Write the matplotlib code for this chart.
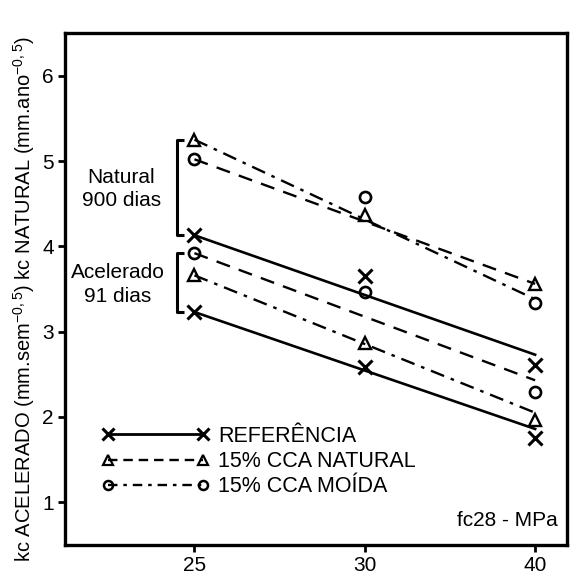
import numpy as np
import matplotlib.pyplot as plt

plt.rcParams['font.family'] = ['Liberation Sans', 'DejaVu Sans']
plt.rcParams['mathtext.fontset'] = 'custom'
plt.rcParams['mathtext.rm'] = 'Liberation Sans'

# fc28 (MPa) categories, drawn equally spaced
fc28 = ['25', '30', '40']

# kc natural (900 dias)
ref_nat = [4.13, 3.65, 2.61]
cca_nat_nat = [5.25, 4.37, 3.56]
cca_moida_nat = [5.02, 4.58, 3.34]
# kc acelerado (91 dias)
ref_ace = [3.23, 2.59, 1.75]
cca_nat_ace = [3.66, 2.87, 1.96]
cca_moida_ace = [3.92, 3.46, 2.29]

# trend lines as drawn in the figure (value at 25 and at 40)
ref_nat_line = [4.13, 2.73]
ref_ace_line = [3.23, 1.86]
dash_nat_line = [5.02, 3.56]
dashdot_nat_line = [5.25, 3.38]
dash_ace_line = [3.92, 2.43]
dashdot_ace_line = [3.66, 2.05]

x = np.arange(len(fc28))
xe = [x[0], x[-1]]

fig = plt.figure(figsize=(5.73, 5.78), dpi=100)
ax = fig.add_axes([0.1134, 0.0571, 0.877, 0.8858])

mk = dict(color='black', linestyle='none', markerfacecolor='none')
# markers
ax.plot(x, ref_nat, marker='x', markersize=9.5, markeredgewidth=2.2, **mk)
ax.plot(x, ref_ace, marker='x', markersize=9.5, markeredgewidth=2.2, **mk)
ax.plot(x, cca_nat_nat, marker='^', markersize=8.5, markeredgewidth=1.7, **mk)
ax.plot(x, cca_nat_ace, marker='^', markersize=8.5, markeredgewidth=1.7, **mk)
ax.plot(x, cca_moida_nat, marker='o', markersize=8, markeredgewidth=1.9, **mk)
ax.plot(x, cca_moida_ace, marker='o', markersize=8, markeredgewidth=1.9, **mk)

# lines
ax.plot(xe, ref_nat_line, color='black', lw=1.9)
ax.plot(xe, ref_ace_line, color='black', lw=1.9)
ax.plot(xe, dash_nat_line, color='black', lw=1.7, dashes=(6, 4))
ax.plot(xe, dash_ace_line, color='black', lw=1.7, dashes=(6, 4))
ax.plot(xe, dashdot_nat_line, color='black', lw=1.7, dashes=(6, 3, 1.5, 3))
ax.plot(xe, dashdot_ace_line, color='black', lw=1.7, dashes=(6, 3, 1.5, 3))

# legend handles (not drawn in the plot)
ax.plot([], [], color='black', lw=2, marker='x', markersize=8,
        markeredgewidth=2.2, label='REFERÊNCIA')
ax.plot([], [], color='black', lw=1.7, dashes=(4, 2.5), marker='^', markersize=7,
        markerfacecolor='none', markeredgewidth=1.6, label='15% CCA NATURAL')
ax.plot([], [], color='black', lw=1.7, dashes=(4, 2.5, 1.5, 2.5), marker='o',
        markersize=6.5, markerfacecolor='none', markeredgewidth=1.8,
        label='15% CCA MOÍDA')
leg = ax.legend(loc='lower left', bbox_to_anchor=(0.035, 0.055), numpoints=2,
                handlelength=5.0, frameon=False, fontsize=15.5,
                labelspacing=0.2, handletextpad=0.4)

# brackets
bx = -0.1
for top, bot in [(cca_nat_nat[0], ref_nat[0]), (cca_moida_ace[0], ref_ace[0])]:
    ax.plot([bx + 0.04, bx, bx, bx + 0.04], [top, top, bot, bot],
            color='black', lw=2.2, solid_capstyle='butt')
ax.text(-0.43, (cca_nat_nat[0] + ref_nat[0]) / 2 - 0.02, 'Natural\n900 dias',
        ha='center', va='center', fontsize=15, linespacing=1.3)
ax.text(-0.45, (cca_moida_ace[0] + ref_ace[0]) / 2 - 0.02, 'Acelerado\n91 dias',
        ha='center', va='center', fontsize=15, linespacing=1.3)

ax.text(0.98, 0.03, 'fc28 - MPa', transform=ax.transAxes, ha='right',
        va='bottom', fontsize=15)

ax.set_xticks(x)
ax.set_xticklabels(fc28)
ax.set_xlim(-0.76, 2.19)
ax.set_ylim(0.5, 6.5)
ax.set_yticks([1, 2, 3, 4, 5, 6])
ax.tick_params(axis='both', direction='out', length=5, width=2,
               labelsize=15, pad=3)
for s in ax.spines.values():
    s.set_linewidth(2.4)

ax.set_ylabel(r'kc ACELERADO (mm.sem$^{-0,5}$) kc NATURAL (mm.ano$^{-0,5}$)',
              fontsize=14.5)
ax.yaxis.set_label_coords(-0.055, 0.48)

fig.savefig('out.png', dpi=100)
